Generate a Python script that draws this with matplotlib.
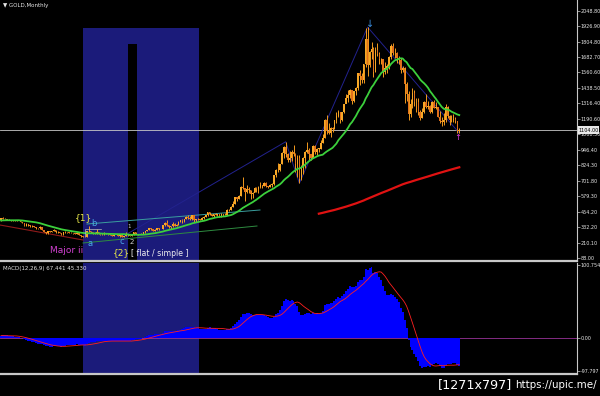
import numpy as np
import pandas as pd
import matplotlib
matplotlib.use('Agg')
import matplotlib.pyplot as plt
from matplotlib.patches import Rectangle

# GOLD monthly, Jan 1993 - Dec 1995 closes (off screen, only warms up the MAs / MACD)
pre_close = [330, 328, 337, 355, 377, 378, 402, 372, 355, 369, 370, 391,
             378, 381, 391, 376, 387, 386, 384, 386, 395, 389, 383, 383,
             375, 376, 392, 390, 385, 387, 383, 383, 384, 383, 387, 387]

# GOLD monthly, Jan 1996 - Aug 2015 (visible candles), one row per year
close = [405, 400, 396, 392, 390, 382, 385, 387, 379, 379, 371, 369,
         345, 358, 348, 340, 345, 334, 326, 325, 332, 311, 296, 290,
         303, 297, 301, 310, 293, 296, 288, 273, 294, 292, 294, 288,
         287, 287, 279, 286, 268, 261, 255, 254, 299, 299, 292, 290,
         283, 293, 278, 275, 272, 288, 276, 277, 273, 264, 270, 273,
         265, 267, 258, 264, 267, 270, 266, 273, 293, 279, 275, 279,
         282, 297, 302, 308, 327, 318, 304, 313, 324, 316, 319, 347,
         368, 348, 336, 339, 361, 346, 354, 375, 388, 384, 398, 416,
         402, 397, 427, 387, 394, 395, 391, 408, 416, 429, 453, 438,
         422, 435, 428, 435, 417, 435, 430, 433, 473, 470, 495, 517,
         569, 556, 583, 654, 643, 614, 633, 624, 599, 604, 647, 632,
         650, 665, 663, 680, 659, 650, 666, 673, 743, 789, 783, 834,
         923, 972, 917, 864, 885, 928, 914, 833, 880, 718, 815, 884,
         928, 942, 917, 884, 979, 927, 955, 955, 1000, 1040, 1182, 1096,
         1083, 1118, 1113, 1180, 1212, 1244, 1181, 1247, 1308, 1357, 1385, 1421,
         1332, 1410, 1439, 1556, 1536, 1500, 1628, 1826, 1620, 1722, 1746, 1566,
         1737, 1711, 1668, 1664, 1561, 1598, 1614, 1687, 1772, 1719, 1712, 1675,
         1663, 1578, 1595, 1472, 1393, 1234, 1313, 1396, 1327, 1323, 1250, 1202,
         1244, 1326, 1284, 1296, 1250, 1327, 1282, 1287, 1210, 1172, 1167, 1184,
         1284, 1213, 1184, 1183, 1190, 1172, 1095, 1104]
high = [408, 416, 402, 398, 395, 391, 390, 390, 388, 385, 385, 373,
        369, 366, 360, 348, 350, 346, 336, 330, 339, 333, 313, 298,
        306, 305, 304, 315, 312, 300, 296, 290, 298, 300, 298, 297,
        293, 290, 290, 292, 290, 268, 263, 260, 305, 339, 302, 296,
        292, 315, 295, 282, 278, 294, 289, 279, 277, 274, 271, 274,
        273, 269, 268, 266, 294, 278, 272, 278, 296, 294, 278, 279,
        286, 298, 304, 310, 328, 330, 322, 316, 328, 325, 322, 350,
        372, 388, 350, 341, 377, 365, 360, 379, 393, 395, 399, 418,
        427, 418, 427, 430, 397, 405, 399, 410, 419, 431, 456, 456,
        439, 438, 445, 438, 433, 442, 436, 445, 474, 478, 497, 541,
        571, 574, 585, 656, 730, 632, 665, 652, 626, 612, 649, 649,
        657, 689, 671, 692, 691, 660, 672, 680, 743, 793, 841, 838,
        933, 975, 1011, 918, 937, 943, 988, 921, 909, 906, 826, 887,
        937, 1006, 958, 916, 982, 984, 960, 965, 1024, 1070, 1195, 1227,
        1162, 1125, 1131, 1180, 1249, 1265, 1216, 1249, 1308, 1388, 1424, 1431,
        1424, 1411, 1447, 1557, 1577, 1556, 1632, 1913, 1921, 1733, 1804, 1763,
        1764, 1791, 1720, 1679, 1668, 1641, 1628, 1692, 1790, 1796, 1755, 1723,
        1694, 1676, 1616, 1605, 1488, 1416, 1348, 1434, 1423, 1361, 1362, 1262,
        1280, 1332, 1392, 1331, 1306, 1332, 1345, 1323, 1290, 1255, 1205, 1239,
        1307, 1292, 1224, 1225, 1232, 1205, 1176, 1120]
low = [385, 395, 394, 389, 388, 381, 381, 385, 378, 378, 370, 366,
       343, 340, 345, 336, 338, 333, 317, 318, 320, 308, 294, 282,
       278, 291, 292, 299, 290, 286, 286, 271, 272, 287, 290, 285,
       284, 282, 278, 278, 267, 257, 252, 252, 253, 292, 289, 281,
       280, 281, 278, 272, 267, 270, 276, 269, 269, 264, 264, 267,
       262, 256, 255, 256, 263, 266, 265, 265, 271, 278, 272, 275,
       277, 280, 290, 300, 307, 313, 299, 299, 312, 312, 315, 317,
       343, 343, 324, 322, 338, 340, 341, 354, 370, 369, 372, 396,
       398, 391, 391, 376, 370, 386, 386, 386, 398, 411, 421, 431,
       418, 412, 426, 422, 414, 414, 418, 429, 432, 461, 466, 489,
       518, 538, 554, 584, 633, 543, 608, 605, 560, 561, 610, 613,
       603, 647, 640, 663, 651, 640, 648, 650, 670, 728, 774, 780,
       834, 883, 890, 854, 850, 858, 897, 774, 735, 681, 706, 752,
       803, 922, 866, 867, 883, 913, 908, 932, 956, 1001, 1040, 1076,
       1076, 1045, 1089, 1114, 1158, 1210, 1158, 1175, 1243, 1315, 1330, 1360,
       1308, 1327, 1382, 1420, 1462, 1478, 1478, 1602, 1535, 1603, 1670, 1523,
       1563, 1693, 1627, 1625, 1527, 1546, 1556, 1586, 1666, 1702, 1672, 1635,
       1626, 1555, 1565, 1321, 1338, 1180, 1207, 1280, 1291, 1251, 1221, 1182,
       1202, 1240, 1277, 1268, 1240, 1240, 1281, 1272, 1206, 1160, 1132, 1141,
       1167, 1198, 1142, 1170, 1170, 1162, 1077, 1080]

price_labels = ['2048.80', '1926.90', '1804.80', '1682.70', '1560.60', '1438.50',
                '1316.40', '1190.60', '1068.50', '946.40', '824.30', '701.80',
                '579.30', '454.20', '332.20', '210.10', '88.00']
macd_labels = ['100.754', '0.00', '-97.797']
title = 'GOLD,Monthly'
macd_title = 'MACD(12,26,9) 67.441 45.330'

# ---- indicators (computed on full history incl. warm-up) ----
full = pd.Series(pre_close + close, dtype=float)
npre = len(pre_close)
sma20 = full.rolling(20).mean().values[npre:]
sma200 = full.rolling(200).mean().values[npre:]
macd = (full.ewm(span=12, adjust=False).mean() - full.ewm(span=26, adjust=False).mean())
signal = macd.rolling(9).mean().values[npre:]
macd = macd.values[npre:]

c = np.array(close, float)
h = np.array(high, float)
l = np.array(low, float)
o = np.concatenate([[pre_close[-1]], c[:-1]])
idx = np.arange(len(c))

# pixel -> data helpers (main panel is 577 x 261 px)
def px(x):
    return (x - 1) / 1.95

def py(y):
    return 2136.1 - y * 7.938

W, H = 600, 396
fig = plt.figure(figsize=(6, 3.96), dpi=100, facecolor='black')
ax = fig.add_axes([0, 1 - 261 / H, 577 / W, 261 / H], facecolor='black')
ax2 = fig.add_axes([0, 1 - 374 / H, 577 / W, 111 / H], facecolor='black')

grey = '#C8C8C8'
for a in (ax, ax2):
    a.set_xlim(px(0), px(577))
    for s in ('top', 'left'):
        a.spines[s].set_visible(False)
    a.spines['right'].set_color(grey)
    a.spines['right'].set_linewidth(0.8)
    a.spines['bottom'].set_color(grey)
    a.spines['bottom'].set_linewidth(1.6)
    a.set_xticks([])
    a.yaxis.tick_right()
    a.tick_params(axis='y', colors=grey, labelcolor='#E6E6E6', labelsize=3.5,
                  length=2, width=0.5, pad=0.8)
ax.set_ylim(py(261), py(0))

# highlighted zones
blue_zone = '#1B1B7A'
ax.add_patch(Rectangle((px(83), py(261)), px(199) - px(83), py(28) - py(261),
                       facecolor=blue_zone, edgecolor='none', zorder=0))
ax.add_patch(Rectangle((px(128), py(261)), px(137) - px(128), py(44) - py(261),
                       facecolor='black', edgecolor='none', zorder=0.5))
ax2.axvspan(px(83), px(199), color=blue_zone, zorder=0, lw=0)

# candles
up = c >= o
body_lo = np.minimum(o, c)
body_h = np.maximum(np.abs(c - o), 3)
ax.vlines(idx, l, h, color='#F39A1E', lw=0.7, zorder=3)
ax.bar(idx[up], body_h[up], bottom=body_lo[up], width=0.8,
       color='#F7A827', edgecolor='none', zorder=4)
ax.bar(idx[~up], body_h[~up], bottom=body_lo[~up], width=0.8,
       color='#E0701C', edgecolor='none', zorder=4)

# moving averages
ax.plot(idx, sma20, color='#3CD03C', lw=1.3, zorder=5)
ax.plot(idx, sma200, color='#E01212', lw=1.6, zorder=5)

# current price line + box
ax.axhline(c[-1], color=grey, lw=0.6, zorder=2)
yb = 1 - ((2136.1 - c[-1]) / 7.938) / H
fig.patches.append(Rectangle((578 / W, yb - 4 / H), 21 / W, 8 / H, transform=fig.transFigure,
                             facecolor='#E8E8E8', edgecolor='none', zorder=5))
fig.text(588.5 / W, yb, '%.2f' % c[-1], fontsize=3.5, color='black', ha='center',
         va='center', zorder=6)

ax.set_yticks([float(s) for s in price_labels])
ax.set_yticklabels(price_labels)

# wave drawing: zigzag through swing points
zz = [int(np.argmin(l[50:80])) + 50, int(np.argmax(h[140:150])) + 140,
      int(np.argmin(l[150:160])) + 150, int(np.argmax(h)), len(c) - 1]
zz_y = [l[zz[0]], h[zz[1]], l[zz[2]], h[zz[3]], l[zz[4]]]
ax.plot(zz, zz_y, color='#22228E', lw=0.7, zorder=2)

# trend / channel lines
ax.plot([px(0), px(83)], [py(225), py(240)], color='#8E1A1A', lw=0.8, zorder=2)
ax.plot([px(87), px(260)], [py(224), py(210)], color='#3A9E9E', lw=0.7, zorder=2)
ax.plot([px(83), px(257)], [py(243), py(226)], color='#2E8B40', lw=0.7, zorder=2)
ax.plot([px(85), px(85), px(101)], [py(236), py(229), py(229)], color='#BBBBBB', lw=0.5, zorder=6)

# labels
def lab(x, y, s, col, fs, ha='center'):
    ax.text(px(x), py(y), s, color=col, fontsize=fs, ha=ha, va='center', zorder=7)

lab(83, 218, '{1}', '#E6E64A', 6.5)
lab(94, 223, 'b', '#4AA8E8', 6)
lab(90, 243, 'a', '#4AA8E8', 6)
lab(122, 241, 'c', '#4AA8E8', 6)
lab(132, 242, '2', '#D0D0D0', 5)
lab(129, 227, '1', '#D0D0D0', 4)
lab(67, 250, 'Major ii', '#D040D0', 6.5)
lab(121, 253, '{2}', '#E6E64A', 6.5)
lab(131, 254, '[ flat / simple ]', '#F0F0F0', 5.6, ha='left')
lab(370, 24, '\u2193', '#3A8EE0', 7)
lab(458, 137, '\u2191', '#E040E0', 6)

fig.text(3 / W, 1 - 5 / H, '\u25bc ' + title, fontsize=4, color='#E6E6E6', va='center')

# MACD panel
ax2.bar(idx, macd, width=1.0, color='#0000FF', edgecolor='none', zorder=2)
ax2.plot(idx, signal, color='#FF2020', lw=0.6, zorder=3)
ax2.axhline(0, color='#993399', lw=0.6, zorder=1)
vmax = np.nanmax(np.concatenate([macd, signal]))
vmin = np.nanmin(np.concatenate([macd, signal]))
R = vmax / 0.64
lo = min(-0.324 * R, vmin * 1.06)
hi = lo + R if lo == -0.324 * R else vmax * 1.04
ax2.set_ylim(lo, hi)
span = hi - lo
ax2.set_yticks([hi - 0.02 * span, 0, lo + 0.03 * span])
ax2.set_yticklabels(macd_labels)
ax2.text(3 / 577, 0.97, macd_title, transform=ax2.transAxes, fontsize=4,
         color='#E6E6E6', va='top')

fig.text(438 / W, 1 - 385 / H, '[1271x797]', fontsize=9.2, color='white', va='center')
fig.text(515 / W, 1 - 385 / H, 'https://upic.me/', fontsize=7.4, color='white', va='center')

fig.savefig('out.png', dpi=100, facecolor='black')
